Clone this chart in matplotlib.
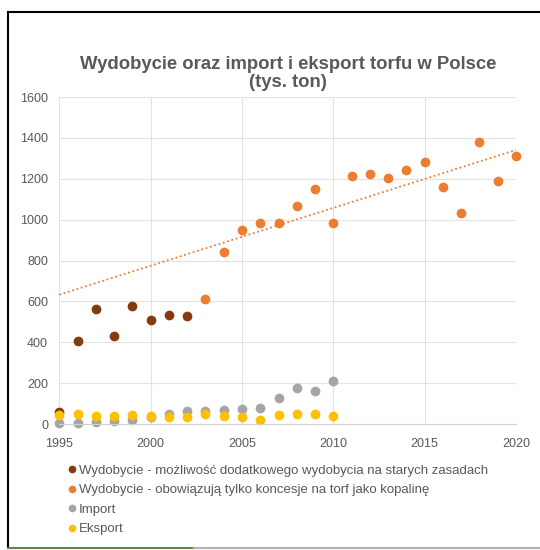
import matplotlib.pyplot as plt
from matplotlib.lines import Line2D
import numpy as np

plt.rcParams['font.family'] = ['Liberation Sans', 'DejaVu Sans']

# Dane (tys. ton)
lata_stare = [1995, 1996, 1997, 1998, 1999, 2000, 2001, 2002]
wyd_stare = [60, 405, 563, 429, 579, 509, 535, 528]

lata_nowe = list(range(2003, 2021))
wyd_nowe = [610, 843, 947, 985, 985, 1066, 1151, 985, 1212, 1221,
            1203, 1243, 1283, 1158, 1031, 1380, 1189, 1311]

lata_handel = list(range(1995, 2011))
import_t = [5, 5, 8, 13, 20, 36, 47, 62, 62, 67, 73, 80, 126, 178, 161, 212]
eksport_t = [46, 49, 39, 41, 46, 41, 34, 34, 49, 41, 34, 20, 44, 50, 50, 41]

etykiety = ['Wydobycie - możliwość dodatkowego wydobycia na starych zasadach',
            'Wydobycie - obowiązują tylko koncesje na torf jako kopalinę',
            'Import', 'Eksport']
kolory = ['#843C0C', '#ED7D31', '#A5A5A5', '#FFC000']

fig = plt.figure(figsize=(5.4, 5.5), dpi=100)
ax = fig.add_axes([0.1098, 0.229, 0.8458, 0.5946])

ms = 6
ax.plot(lata_stare, wyd_stare, 'o', color=kolory[0], ms=ms, label=etykiety[0], clip_on=False)
ax.plot(lata_nowe, wyd_nowe, 'o', color=kolory[1], ms=ms, label=etykiety[1], clip_on=False)
ax.plot(lata_handel, import_t, 'o', color=kolory[2], ms=ms, label=etykiety[2], clip_on=False)
ax.plot(lata_handel, eksport_t, 'o', color=kolory[3], ms=ms, label=etykiety[3], clip_on=False)

# linia trendu (liniowa) dla wydobycia na koncesjach, przedłużona do 1995
a, b = np.polyfit(lata_nowe, wyd_nowe, 1)
xt = np.array([1995, 2020])
ax.plot(xt, a * xt + b, linestyle=(0, (1, 1.5)), color=kolory[1], lw=1.3, zorder=1)

ax.set_xlim(1995, 2020)
ax.set_ylim(0, 1600)
ax.set_xticks(range(1995, 2021, 5))
ax.set_yticks(range(0, 1601, 200))
ax.grid(True, color='#E3E3E3', lw=0.8)
ax.set_axisbelow(True)
for s in ['top', 'right', 'left']:
    ax.spines[s].set_visible(False)
ax.spines['bottom'].set_color('#D0D0D0')
ax.tick_params(length=0, labelsize=9, colors='#595959')
ax.tick_params(axis='x', pad=10)
ax.tick_params(axis='y', pad=8)

fig.text(0.534, 0.866, 'Wydobycie oraz import i eksport torfu w Polsce\n(tys. ton)',
         ha='center', va='center', fontsize=13.3, fontweight='bold', color='#595959',
         linespacing=1.12)

leg = fig.legend(loc='upper left', bbox_to_anchor=(0.128, 0.155), frameon=False,
                 fontsize=9.5, markerscale=0.75, handlelength=0.4, handletextpad=0.35,
                 labelspacing=0.55, borderpad=0, borderaxespad=0)
for t in leg.get_texts():
    t.set_color('#595959')

# ramka
fig.add_artist(Line2D([0.0148, 1.0], [0.978, 0.978], color='black', lw=1.5))
fig.add_artist(Line2D([0.0148, 0.0148], [0.978, 0.004], color='black', lw=1.5))
fig.add_artist(Line2D([0.0148, 0.36], [0.004, 0.004], color='#5E8A3A', lw=1.5))
fig.add_artist(Line2D([0.36, 1.0], [0.004, 0.004], color='#B0B0B0', lw=1.5))

fig.savefig('out.png', dpi=100)
